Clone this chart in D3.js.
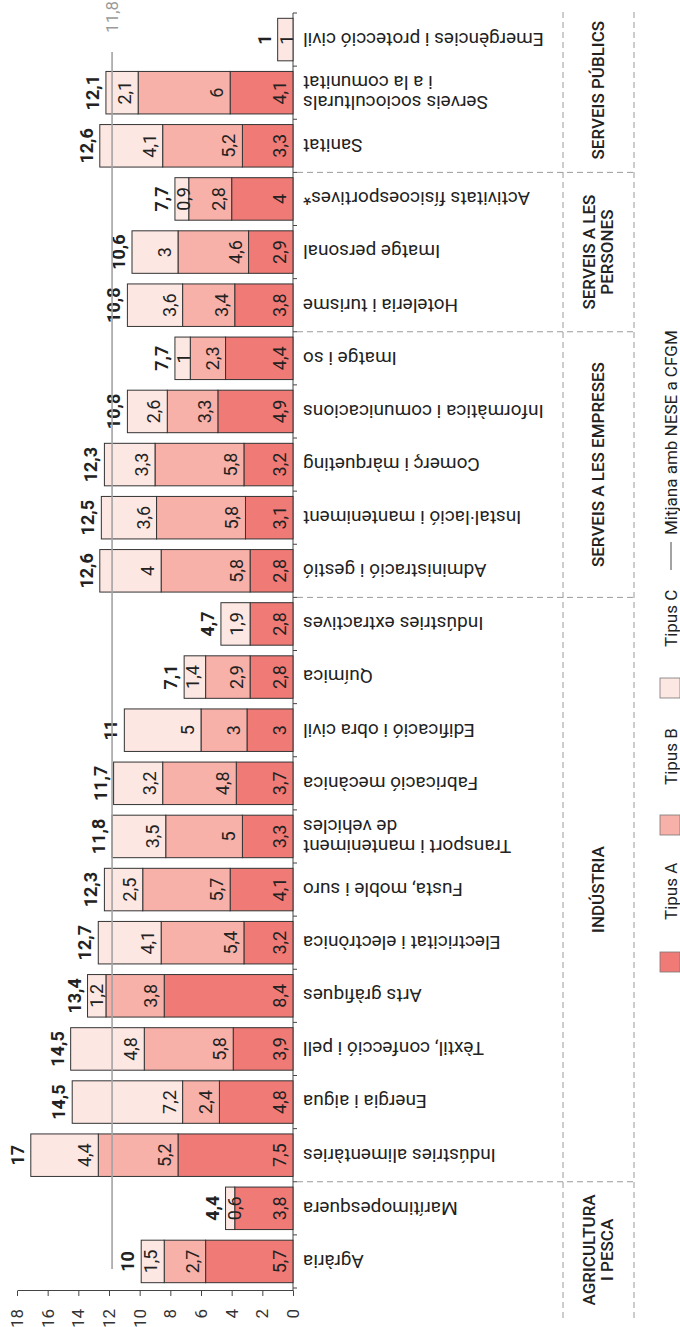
<!DOCTYPE html>
<html><head><meta charset="utf-8">
<script src="https://cdn.jsdelivr.net/npm/d3@7"></script>
<style>
body{margin:0;background:#fff}
svg{display:block}
text{font-family:Roboto,"Noto Sans",sans-serif}
</style>
</head><body>
<svg id="chart" width="680" height="1327"></svg>
<script>
const categories = ["Agrària","Marítimopesquera","Indústries alimentàries","Energia i aigua","Tèxtil, confecció i pell","Arts gràfiques","Electricitat i electrònica","Fusta, moble i suro","Transport i manteniment\nde vehicles","Fabricació mecànica","Edificació i obra civil","Química","Indústries extractives","Administració i gestió","Instal·lació i manteniment","Comerç i màrqueting","Informàtica i comunicacions","Imatge i so","Hoteleria i turisme","Imatge personal","Activitats físicoesportives*","Sanitat","Serveis socioculturals\ni a la comunitat","Emergències i protecció civil"];
const tipusA = [5.7,3.8,7.5,4.8,3.9,8.4,3.2,4.1,3.3,3.7,3,2.8,2.8,2.8,3.1,3.2,4.9,4.4,3.8,2.9,4,3.3,4.1,0];
const tipusB = [2.7,0,5.2,2.4,5.8,3.8,5.4,5.7,5,4.8,3,2.9,0,5.8,5.8,5.8,3.3,2.3,3.4,4.6,2.8,5.2,6,0];
const tipusC = [1.5,0.6,4.4,7.2,4.8,1.2,4.1,2.5,3.5,3.2,5,1.4,1.9,4,3.6,3.3,2.6,1,3.6,3,0.9,4.1,2.1,1];
const totals = [10,4.4,17,14.5,14.5,13.4,12.7,12.3,11.8,11.7,11,7.1,4.7,12.6,12.5,12.3,10.8,7.7,10.8,10.6,7.7,12.6,12.1,1];
const meanValue = 11.8;
const valueTicks = [0,2,4,6,8,10,12,14,16,18];
const groupNames = [["AGRICULTURA","I PESCA"],["INDÚSTRIA"],["SERVEIS A LES EMPRESES"],["SERVEIS A LES","PERSONES"],["SERVEIS PÚBLICS"]];
const groupSizes = [2,11,5,3,3];
const seriesKeys = ["A","B","C"];
const seriesNames = ["Tipus A","Tipus B","Tipus C"];
const colors = ["#f07a76","#f8b1a9","#fde7e2"];
const meanLabel = "Mitjana amb NESE a CFGM";

const fmt = v => String(v).replace(".", ",");

const svg = d3.select("#chart");
// Chart is drawn in its natural orientation (1327 wide x 680 tall) and rotated -90deg.
const g = svg.append("g").attr("transform","translate(0,1327) rotate(-90)");

const table = categories.map((c,i)=>({cat:c, A:tipusA[i], B:tipusB[i], C:tipusC[i], total:totals[i]}));
const stacked = d3.stack().keys(seriesKeys)(table);

const x = d3.scaleBand().domain(categories).range([39,1314]).paddingInner(0.2).paddingOuter(0.1);
const y = d3.scaleLinear().domain([0,18]).range([293,17]);
const color = d3.scaleOrdinal().domain(seriesKeys).range(colors);
const bw = x.bandwidth();
const step = x.step();
const boundary = i => x.range()[0] + i*step;

// value axis
const yAxis = g.append("g").attr("transform","translate(36,0)")
  .call(d3.axisLeft(y).tickValues(valueTicks).tickSize(5).tickSizeOuter(0).tickPadding(13));
yAxis.select(".domain").attr("stroke","#444");
yAxis.selectAll(".tick line").attr("stroke","#444");
yAxis.selectAll("text").attr("font-size",17).attr("fill","#333").attr("font-family","Roboto");

// category axis
g.append("line").attr("x1",36).attr("x2",boundary(categories.length)).attr("y1",y(0)).attr("y2",y(0))
  .attr("stroke","#444");
g.selectAll(".ctick").data(d3.range(categories.length+1)).join("line")
  .attr("x1",d=>boundary(d)).attr("x2",d=>boundary(d)).attr("y1",y(0)).attr("y2",y(0)+4).attr("stroke","#444");

// group frame (dashed)
const gb = [9];
let acc=0; groupSizes.forEach((s,i)=>{acc+=s; if(i<groupSizes.length-1) gb.push(boundary(acc));});
gb.push(1319);
[563,634].forEach(v=>{
  g.append("line").attr("x1",9).attr("x2",1319).attr("y1",v).attr("y2",v)
   .attr("stroke","#9a9a9a").attr("stroke-dasharray","6,4");
});
gb.slice(1,-1).forEach(u=>{
  g.append("line").attr("x1",u).attr("x2",u).attr("y1",297).attr("y2",634)
   .attr("stroke","#9a9a9a").attr("stroke-dasharray","6,4");
});
groupNames.forEach((lines,i)=>{
  const cx=(gb[i]+gb[i+1])/2;
  const t=g.append("text").attr("x",cx).attr("y",598).attr("text-anchor","middle")
    .attr("font-size",17).attr("font-weight",500).attr("fill","#222");
  lines.forEach((l,j)=>t.append("tspan").attr("x",cx)
    .attr("dy", j===0 ? ((-(lines.length-1)/2)*1.1+0.35)+"em" : "1.1em").text(l));
});

// bars
const layer = g.selectAll(".layer").data(stacked).join("g").attr("fill",d=>color(d.key));
layer.selectAll("rect").data(d=>d.filter(s=>s[1]-s[0]>0)).join("rect")
  .attr("x",d=>x(d.data.cat)).attr("width",bw)
  .attr("y",d=>y(d[1])).attr("height",d=>y(d[0])-y(d[1]))
  .attr("stroke","#333").attr("stroke-width",1);

// segment labels
stacked.forEach(s=>{
  g.append("g").selectAll("text").data(s.filter(d=>d[1]-d[0]>0)).join("text")
    .attr("x",d=>x(d.data.cat)+bw/2)
    .attr("y",d=>Math.max(y(d[0])-7, y(d[1])+15))
    .attr("text-anchor","middle").attr("font-size",18).attr("fill","#222")
    .text(d=>fmt(+(d[1]-d[0]).toFixed(1)));
});

// totals
g.append("g").selectAll("text").data(table).join("text")
  .attr("x",d=>x(d.cat)+bw/2)
  .attr("y",d=>y(d.A+d.B+d.C)-7)
  .attr("text-anchor","middle").attr("font-size",18).attr("font-weight",700).attr("fill","#222")
  .text(d=>fmt(d.total));

// mean line
const mStart = x(categories[0])+0.32*bw, mEnd = x(categories[categories.length-1])+0.21*bw;
g.append("line").attr("x1",mStart).attr("x2",mEnd).attr("y1",y(meanValue)).attr("y2",y(meanValue))
  .attr("stroke","#a3a3a3").attr("stroke-width",1.6);
g.append("text").attr("x",mEnd+19).attr("y",y(meanValue)).attr("dy","0.35em")
  .attr("font-size",17).attr("fill","#9a9a9a").text(fmt(meanValue));

// category labels
categories.forEach(c=>{
  const lines=c.split("\n");
  const cx=x(c)+bw/2;
  const t=g.append("text").attr("transform",`translate(${cx},303) rotate(-90)`)
    .attr("text-anchor","end").attr("font-size",19).attr("fill","#222");
  lines.forEach((l,j)=>t.append("tspan").attr("x",0)
    .attr("dy", j===0 ? ((-(lines.length-1)/2)*1.05+0.35)+"em" : "1.05em").text(l));
});

// legend
const legU = [355,492,629];
const legTextU = [407,542,680];
seriesKeys.forEach((k,i)=>{
  g.append("rect").attr("x",legU[i]).attr("y",660).attr("width",20).attr("height",20)
    .attr("fill",color(k)).attr("stroke","#777").attr("stroke-width",0.8);
  g.append("text").attr("x",legTextU[i]).attr("y",677).attr("font-size",17).attr("fill","#222").text(seriesNames[i]);
});
g.append("line").attr("x1",757).attr("x2",785).attr("y1",671).attr("y2",671).attr("stroke","#a3a3a3").attr("stroke-width",2);
g.append("text").attr("x",792).attr("y",677).attr("font-size",17).attr("fill","#222").text(meanLabel);
</script>
</body></html>
